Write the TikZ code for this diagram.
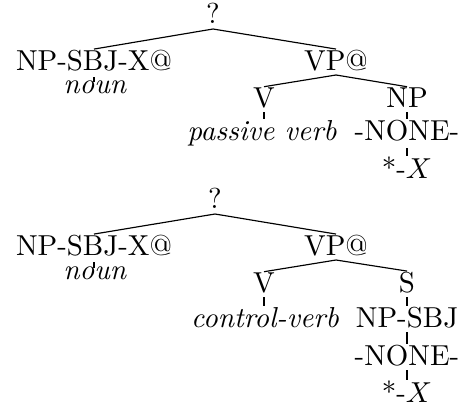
\documentclass[tikz,border=0pt]{standalone}
\usepackage{tikz}
\usetikzlibrary{calc}

\begin{document}
\begin{tikzpicture}[x=0.3464pt,y=0.3464pt,yscale=-1,xscale=1,
    lbl/.style={anchor=base,inner sep=0pt}]
\useasboundingbox (0,0) rectangle (466,405);
%%%%% first tree
% Text Node
\draw (213,23) node [lbl] (q1) {?};
\draw (94,70) node [lbl] (np1) {NP-SBJ-X@};
\draw (95,93) node [lbl] (nn1) {\textit{noun}};
\draw (336,70) node [lbl] (vp1) {VP@};
\draw (264,107) node [lbl] (v1) {V};
\draw (407,107) node [lbl] (np1b) {NP};
\draw (262,140) node [lbl] (pv1) {\textit{passive verb}};
\draw (407,140) node [lbl] (no1) {-NONE-};
\draw (407,178) node [lbl] (x1) {*-$X$};
%Straight Lines
\draw (q1.base) ++(0,6) -- (np1.north);
\draw (q1.base) ++(0,6) -- (vp1.north);
\draw (np1.base) ++(0,7) -- ($(np1.base |- nn1.north)+(0,2)$);
\draw (vp1.base) ++(0,5) -- (v1.north);
\draw (vp1.base) ++(0,5) -- (np1b.north);
\draw (v1.base) ++(0,5) -- (v1.base |- pv1.north);
\draw (np1b.base) ++(0,5) -- (np1b.base |- no1.north);
\draw (no1.base) ++(0,8) -- (no1.base |- x1.north);
%%%%% second tree
% Text Node
\draw (215,208) node [lbl] (q2) {?};
\draw (94,255) node [lbl] (np2) {NP-SBJ-X@};
\draw (95,279) node [lbl] (nn2) {\textit{noun}};
\draw (336,255) node [lbl] (vp2) {VP@};
\draw (264,292) node [lbl] (v2) {V};
\draw (407,292) node [lbl] (s2) {S};
\draw (265,327) node [lbl] (cv2) {\textit{control-verb}};
\draw (407,327) node [lbl] (nps2) {NP-SBJ};
\draw (407,365) node [lbl] (no2) {-NONE-};
\draw (407,402) node [lbl] (x2) {*-$X$};
%Straight Lines
\draw (q2.base) ++(0,6) -- (np2.north);
\draw (q2.base) ++(0,6) -- (vp2.north);
\draw (np2.base) ++(0,7) -- ($(np2.base |- nn2.north)+(0,2)$);
\draw (vp2.base) ++(0,5) -- (v2.north);
\draw (vp2.base) ++(0,5) -- (s2.north);
\draw (v2.base) ++(0,5) -- (v2.base |- cv2.north);
\draw (s2.base) ++(0,5) -- (s2.base |- nps2.north);
\draw (nps2.base) ++(0,5) -- (nps2.base |- no2.north);
\draw (no2.base) ++(0,5) -- (no2.base |- x2.north);
\end{tikzpicture}
\end{document}
